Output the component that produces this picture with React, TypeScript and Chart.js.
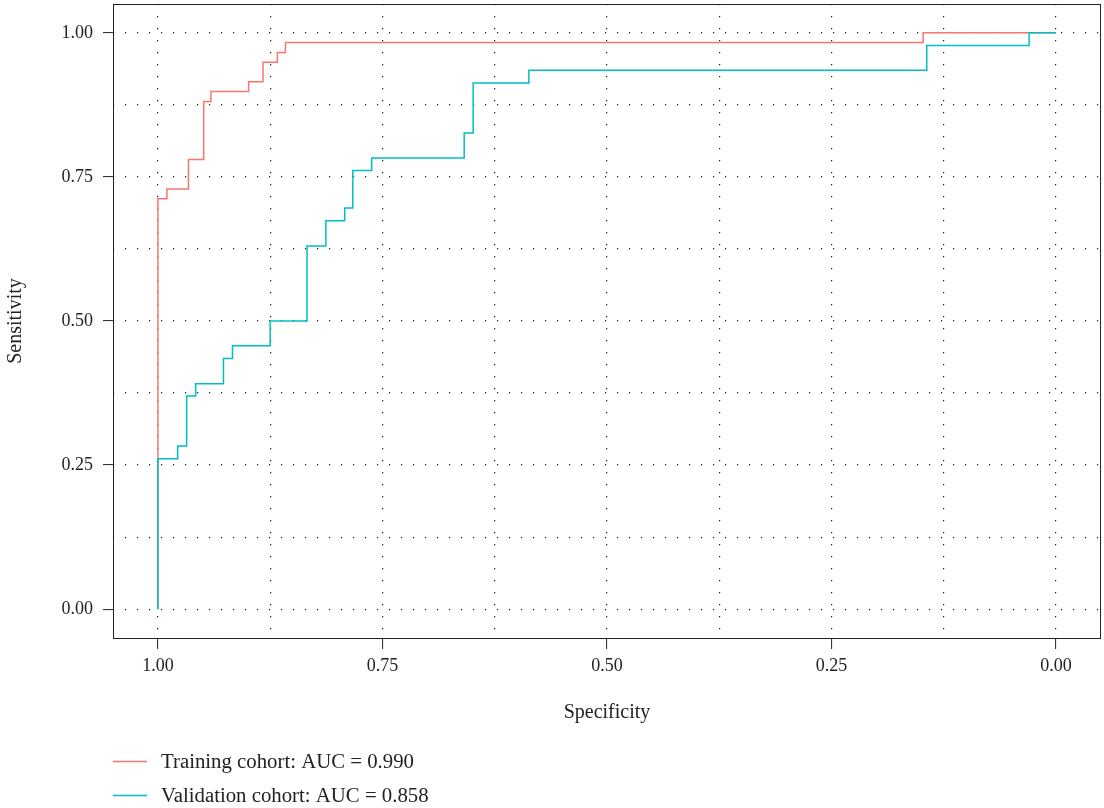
import React, { useEffect, useRef } from "react";
import { Chart, registerables } from "chart.js";

Chart.register(...registerables);

// Training cohort ROC corners (specificity, sensitivity)
const trainSpec = [1, 1, 0.99, 0.99, 0.966, 0.966, 0.949, 0.949, 0.941, 0.941, 0.899, 0.899, 0.883, 0.883, 0.867, 0.867, 0.858, 0.858, 0.148, 0.148, 0];
const trainSens = [0, 0.712, 0.712, 0.729, 0.729, 0.78, 0.78, 0.881, 0.881, 0.898, 0.898, 0.915, 0.915, 0.949, 0.949, 0.966, 0.966, 0.983, 0.983, 1, 1];

// Validation cohort ROC corners
const validSpec = [1, 1, 0.978, 0.978, 0.968, 0.968, 0.958, 0.958, 0.927, 0.927, 0.917, 0.917, 0.875, 0.875, 0.834, 0.834, 0.813, 0.813, 0.792, 0.792, 0.783, 0.783, 0.762, 0.762, 0.659, 0.659, 0.649, 0.649, 0.587, 0.587, 0.144, 0.144, 0.03, 0.03, 0];
const validSens = [0, 0.261, 0.261, 0.283, 0.283, 0.37, 0.37, 0.391, 0.391, 0.435, 0.435, 0.457, 0.457, 0.5, 0.5, 0.63, 0.63, 0.674, 0.674, 0.696, 0.696, 0.761, 0.761, 0.783, 0.783, 0.826, 0.826, 0.913, 0.913, 0.935, 0.935, 0.978, 0.978, 1, 1];

const seriesLabels = ["Training cohort: AUC = 0.990", "Validation cohort: AUC = 0.858"];
const seriesColors = ["#F8766D", "#00BFC4"];
const majorTicks = [0, 0.25, 0.5, 0.75, 1];

const FONT = "'Liberation Serif', 'DejaVu Serif', serif";
const TEXT = "#222";

const isMajor = (v: number) => majorTicks.some((m) => Math.abs(m - v) < 1e-6);

const framePlugin = {
  id: "frameAndLegend",
  afterDraw(chart: any) {
    const { ctx, chartArea } = chart;
    ctx.save();
    ctx.strokeStyle = "#222";
    ctx.lineWidth = 1;
    ctx.strokeRect(chartArea.left + 0.5, chartArea.top + 0.5, chartArea.right - chartArea.left - 1, chartArea.bottom - chartArea.top);
    // legend
    ctx.font = `20.8px ${FONT}`;
    ctx.textBaseline = "middle";
    chart.data.datasets.forEach((ds: any, i: number) => {
      const y = chartArea.bottom + 123.5 + i * 34;
      ctx.strokeStyle = ds.borderColor;
      ctx.lineWidth = 1.5;
      ctx.beginPath();
      ctx.moveTo(chartArea.left, y);
      ctx.lineTo(chartArea.left + 34, y);
      ctx.stroke();
      ctx.fillStyle = TEXT;
      ctx.fillText(ds.label, chartArea.left + 48, y + 1);
    });
    ctx.restore();
  },
};

export default function App() {
  const ref = useRef<HTMLCanvasElement | null>(null);
  useEffect(() => {
    if (!ref.current) return;
    const mk = (xs: number[], ys: number[]) => xs.map((x, i) => ({ x, y: ys[i] }));
    const gridCommon = {
      color: "rgba(0,0,0,0.9)",
      lineWidth: 1.2,
      tickBorderDash: [],
      tickWidth: 1,
      tickColor: (c: any) => (c.tick && isMajor(c.tick.value) ? "#222" : "rgba(0,0,0,0)"),
    };
    const borderCommon = { display: false, dash: [1.2, 10.8] };
    const chart = new Chart(ref.current, {
      type: "line",
      data: {
        datasets: [
          {
            label: seriesLabels[0],
            data: mk(trainSpec, trainSens),
            borderColor: seriesColors[0],
            borderWidth: 1.5,
            pointRadius: 0,
            fill: false,
            tension: 0,
            order: 1,
          },
          {
            label: seriesLabels[1],
            data: mk(validSpec, validSens),
            borderColor: seriesColors[1],
            borderWidth: 1.5,
            pointRadius: 0,
            fill: false,
            tension: 0,
            order: 0,
          },
        ],
      },
      options: {
        animation: false,
        responsive: true,
        maintainAspectRatio: false,
        layout: { padding: { top: 4, right: 3, bottom: 82, left: 0 } },
        plugins: { legend: { display: false }, tooltip: { enabled: false } },
        scales: {
          x: {
            type: "linear",
            reverse: true,
            min: -0.05,
            max: 1.05,
            border: borderCommon,
            grid: { ...gridCommon, tickLength: 11 },
            ticks: {
              stepSize: 0.125,
              includeBounds: false,
              autoSkip: false,
              maxRotation: 0,
              padding: 6,
              color: TEXT,
              font: { family: FONT, size: 18 },
              callback: (v: any) => (isMajor(Number(v)) ? Number(v).toFixed(2) : ""),
            },
            title: { display: true, text: "Specificity", color: TEXT, font: { family: FONT, size: 20 }, padding: { top: 0, bottom: 1 } },
            afterFit: (s: any) => { s.height = 88; s.paddingLeft = 0; s.paddingRight = 0; },
          },
          y: {
            type: "linear",
            min: -0.05,
            max: 1.05,
            border: borderCommon,
            grid: { ...gridCommon, tickLength: 10 },
            ticks: {
              stepSize: 0.125,
              includeBounds: false,
              autoSkip: false,
              padding: 10,
              color: TEXT,
              font: { family: FONT, size: 18 },
              callback: (v: any) => (isMajor(Number(v)) ? Number(v).toFixed(2) : ""),
            },
            title: { display: true, text: "Sensitivity", color: TEXT, font: { family: FONT, size: 20 }, padding: { top: 4, bottom: 0 } },
            afterFit: (s: any) => { s.width = 113; s.paddingTop = 0; s.paddingBottom = 0; },
          },
        },
      },
      plugins: [framePlugin],
    } as any);
    return () => chart.destroy();
  }, []);
  return (
    <div style={{ position: "fixed", left: 0, top: 0, width: 1104, height: 808, background: "#fff" }}>
      <canvas ref={ref} />
    </div>
  );
}
